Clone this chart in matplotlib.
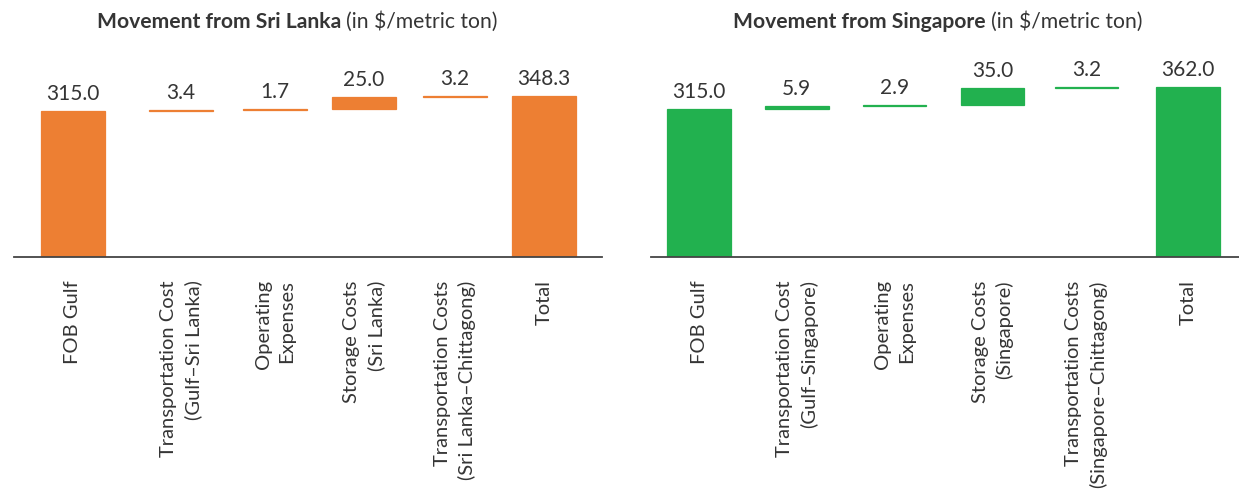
import numpy as np
import matplotlib
matplotlib.use("Agg")
import matplotlib.pyplot as plt

# ---- data ----
left_title_bold = "Movement from Sri Lanka"
right_title_bold = "Movement from Singapore"
title_unit = "(in $/metric ton)"

left_labels = ["FOB Gulf", "Transportation Cost\n(Gulf–Sri Lanka)", "Operating\nExpenses",
               "Storage Costs\n(Sri Lanka)", "Transportation Costs\n(Sri Lanka–Chittagong)", "Total"]
left_values = [315.0, 3.4, 1.7, 25.0, 3.2, 348.3]

right_labels = ["FOB Gulf", "Transportation Cost\n(Gulf–Singapore)", "Operating\nExpenses",
                "Storage Costs\n(Singapore)", "Transportation Costs\n(Singapore–Chittagong)", "Total"]
right_values = [315.0, 5.9, 2.9, 35.0, 3.2, 362.0]

# ---- layout (slot positions of the categories along each axis) ----
left_slots = [0, 1.146, 2.144, 3.089, 4.055, 5]
right_slots = [0, 1, 2, 3, 3.96, 5]

ORANGE = "#ED7F33"
GREEN = "#22B14F"
TXT = "#353535"
FONT = ["Lato", "DejaVu Sans"]

W, H = 1239, 495
fig = plt.figure(figsize=(W / 100, H / 100), dpi=100)

def px_rect(x0, x1, ytop, ybot):
    return [x0 / W, 1 - ybot / H, (x1 - x0) / W, (ybot - ytop) / H]

def waterfall(ax, labels, values, slots, color, xlim, ytop, width):
    vals = np.array(values, dtype=float)
    n = len(vals)
    cum = np.cumsum(vals)
    bottoms = np.zeros(n)
    bottoms[1:-1] = cum[0:n - 2]
    x = np.array(slots, dtype=float)
    ax.bar(x, vals, bottom=bottoms, width=width, color=color, edgecolor=color, linewidth=0.9)
    for xi, v, b in zip(x, vals, bottoms):
        ax.annotate(f"{v:.1f}", xy=(xi, b + v), xytext=(0, 5), textcoords="offset points",
                    ha="center", va="bottom", fontsize=15, color=TXT, family=FONT)
    ax.set_xlim(*xlim)
    ax.set_ylim(0, ytop)
    ax.set_xticks(x)
    ax.set_xticklabels(labels, rotation=90, ha="center", va="top", multialignment="right",
                       fontsize=14.5, color=TXT, family=FONT, linespacing=1.45)
    ax.tick_params(axis="x", length=0, pad=17)
    ax.set_yticks([])
    for s in ["top", "right", "left"]:
        ax.spines[s].set_visible(False)
    ax.spines["bottom"].set_color("#444444")
    ax.spines["bottom"].set_linewidth(1.3)

# left panel: baseline at y=256.7px, ~2.165 units/px
axl = fig.add_axes(px_rect(14, 602, 40, 256.7))
waterfall(axl, left_labels, left_values, left_slots, ORANGE, (-0.626, 5.616),
          (256.7 - 40) * 2.165, 0.675)
axr = fig.add_axes(px_rect(651, 1239, 40, 256.7))
waterfall(axr, right_labels, right_values, right_slots, GREEN, (-0.491, 5.521),
          (256.7 - 40) * 2.13, 0.65)

# titles (bold part + regular part), centred on given x
def title(xc, bold, reg):
    yb = 1 - 28 / H
    t1 = fig.text(0, yb, bold, ha="left", va="baseline", fontsize=15.2,
                  fontweight="bold", color=TXT, family=FONT)
    t2 = fig.text(0, yb, reg, ha="left", va="baseline", fontsize=15.2,
                  color=TXT, family=FONT)
    fig.canvas.draw()
    w1 = t1.get_window_extent().width
    w2 = t2.get_window_extent().width
    gap = 5
    x0 = xc - (w1 + gap + w2) / 2
    t1.set_x(x0 / W)
    t2.set_x((x0 + w1 + gap) / W)

title(297, left_title_bold, title_unit)
title(938, right_title_bold, title_unit)

fig.savefig("out.png", dpi=100)
